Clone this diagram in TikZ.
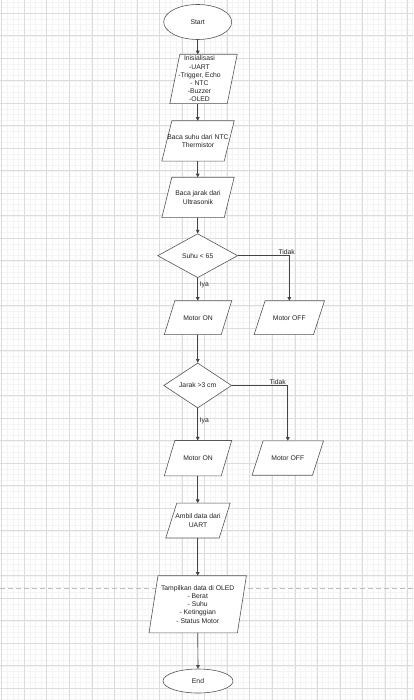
\documentclass[tikz,border=0pt]{standalone}
\usepackage{fontspec}
\setmainfont{Liberation Sans}
\usetikzlibrary{shapes.geometric,arrows.meta}
\definecolor{gridmajor}{HTML}{DCDCDC}
\definecolor{gridminor}{HTML}{F4F4F4}
\definecolor{linec}{HTML}{444444}
\definecolor{borderc}{HTML}{555555}
\definecolor{textc}{HTML}{222222}
\definecolor{dashc}{HTML}{BDBDBD}
\tikzset{
  ftxt/.style={font=\fontsize{6.8}{8.2}\selectfont, text=textc, align=center, inner sep=0pt},
  pshape/.style={draw=none, inner sep=0pt, rectangle},
  pdraw/.style={draw=borderc, fill=white, line width=0.6pt, line join=miter},
  term/.style={ellipse, draw=borderc, fill=white, line width=0.6pt, ftxt},
  dec/.style={diamond, draw=borderc, fill=white, line width=0.6pt, ftxt},
  arr/.style={draw=linec, line width=0.65pt, -{Triangle[length=3.6pt,width=3.6pt]}},
  lbl/.style={ftxt},
  gmin/.style={draw=gridminor, line width=0.5pt},
  gmaj/.style={draw=gridmajor, line width=0.7pt},
}
% #1 text xshift, #2 name, #3 cx, #4 cy, #5 total width, #6 height, #7 slant, #8 text
\newcommand\parabox[8][0]{%
  \path (#3,#4) node[pshape, minimum width=#5, minimum height=#6] (#2) {};
  \draw[pdraw] ([xshift=#7]#2.north west) -- (#2.north east) -- ([xshift=-#7]#2.south east) -- (#2.south west) -- cycle;
  \node[ftxt, xshift=#1] (#2-t) at (#2.center) {#8};
}
\begin{document}
\begin{tikzpicture}[x=1pt,y=-1pt]
\useasboundingbox (0,0) rectangle (413,700);
\fill[white] (0,0) rectangle (413,700);
% grid
\foreach \i in {-1,...,73} {\draw[gmin] ({1.7+\i*5.625},0) -- ({1.7+\i*5.625},700);}
\foreach \j in {-3,...,122} {\draw[gmin] (0,{13.3+\j*5.625}) -- (413,{13.3+\j*5.625});}
\foreach \i in {0,...,18} {\draw[gmaj] ({1.7+\i*22.55},0) -- ({1.7+\i*22.55},700);}
\foreach \j in {0,...,30} {\draw[gmaj] (0,{13.3+\j*22.5}) -- (413,{13.3+\j*22.5});}
% dashed separator
\coordinate (sepL) at (0,588);
\coordinate (sepR) at (413,588);
\draw[draw=dashc, line width=0.8pt, dash pattern=on 5pt off 3pt] (sepL) -- (sepR);
\coordinate (axis) at (197.7,0);

% nodes
\node[term, minimum width=68, minimum height=35] (start) at (197.7,22) {Start};
\parabox[-4]{init}{203.5}{79}{67}{49}{10}{Inisialisasi\\-UART\\-Trigger, Echo\\- NTC\\-Buzzer\\-OLED}
\parabox{suhu}{198}{141}{72}{40}{10}{Baca suhu dari NTC\\Thermistor}
\parabox{jarak}{198}{197.5}{72}{40}{10}{Baca jarak dari\\Ultrasonik}
\node[dec, minimum width=80, minimum height=44] (d1) at (197.7,255.7) {Suhu < 65};
\parabox{on1}{198}{317.7}{67}{33.5}{10.5}{Motor ON}
\parabox{off1}{289.3}{317.7}{70}{33.5}{11}{Motor OFF}
\node[dec, minimum width=68, minimum height=45] (d2) at (197.7,385.5) {Jarak >3 cm};
\parabox{on2}{198}{458.2}{67}{35}{10.5}{Motor ON}
\parabox{off2}{287.8}{458}{71}{34}{11}{Motor OFF}
\parabox{ambil}{198}{520.5}{64}{34.5}{11}{Ambil data dari\\UART}
\parabox{tampil}{197.7}{604.3}{97}{56.7}{9}{Tampilkan data di OLED\\- Berat\\- Suhu\\- Ketinggian\\- Status Motor}
\node[term, minimum width=70, minimum height=24] (stop) at (198,681) {End};

% connectors
\draw[arr] (start.south) -- (axis |- init.north);
\draw[arr] (axis |- init.south) -- (axis |- suhu.north);
\draw[arr] (axis |- suhu.south) -- (axis |- jarak.north);
\draw[arr] (axis |- jarak.south) -- (d1.north);
\draw[arr] (d1.south) -- (axis |- on1.north);
\draw[arr] (d1.east) -| (off1.north);
\draw[arr] (axis |- on1.south) -- (d2.north);
\draw[arr] (d2.south) -- (axis |- on2.north);
\draw[arr] (d2.east) -| (off2.north);
\draw[arr] (axis |- on2.south) -- (axis |- ambil.north);
\draw[arr] (axis |- ambil.south) -- (axis |- tampil.north);
\draw[arr] (axis |- tampil.south) -- (stop.north);

% labels
\node[lbl] (iya1) at (204.3,285) {Iya};
\node[lbl] (tidak1) at (286.7,251.7) {Tidak};
\node[lbl] (iya2) at (204.3,421) {Iya};
\node[lbl] (tidak2) at (277.7,381.7) {Tidak};
\end{tikzpicture}
\end{document}
